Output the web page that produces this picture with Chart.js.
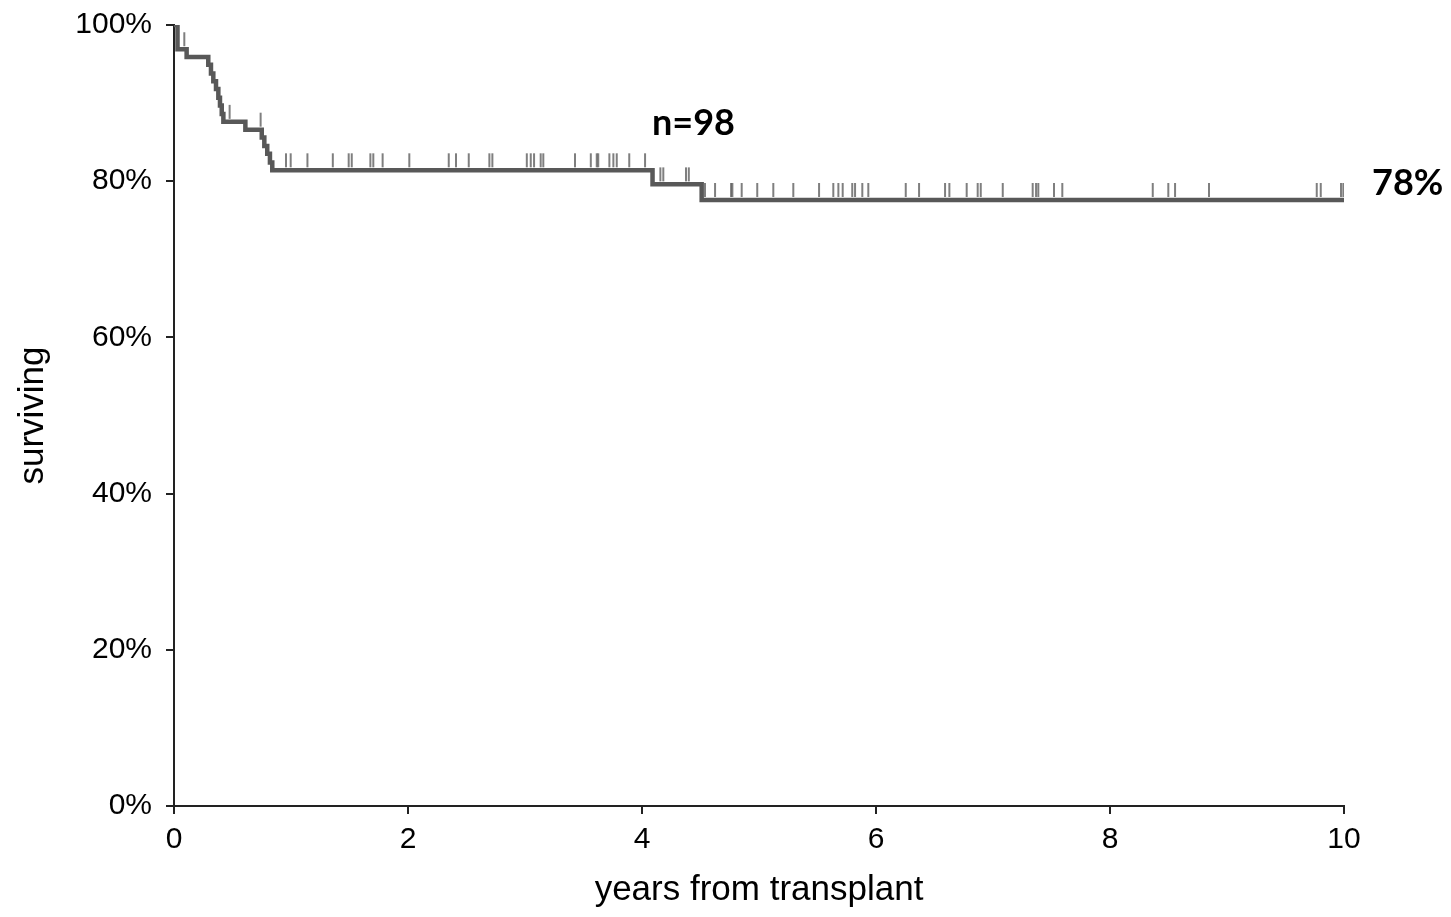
<!DOCTYPE html>
<html>
<head>
<meta charset="utf-8">
<title>Survival</title>
<script src="https://cdn.jsdelivr.net/npm/chart.js@4/dist/chart.umd.min.js"></script>
<style>
  html, body { margin: 0; padding: 0; background: #fff; }
  #wrap { width: 1451px; height: 917px; }
</style>
</head>
<body>
<div id="wrap"><canvas id="km" width="1451" height="917"></canvas></div>
<script>
// step points of the curve (years, % surviving)
const eventYears = [0, 0.03, 0.108, 0.293, 0.316, 0.336, 0.359, 0.379, 0.393, 0.408, 0.422, 0.61, 0.75, 0.772, 0.797, 0.82, 0.84, 4.09, 4.51, 10];
const survival = [100, 96.9, 95.9, 94.9, 93.8, 92.8, 91.8, 90.7, 89.7, 88.6, 87.6, 86.6, 85.6, 84.5, 83.5, 82.4, 81.4, 79.6, 77.6, 77.6];

// censored patients (years)
const censorYears = [
  0.088, 0.475, 0.74,
  0.957, 0.997, 1.14, 1.357, 1.493, 1.519, 1.678, 1.703, 1.783, 2.011, 2.348, 2.41,
  2.519, 2.695, 2.721, 3.015, 3.049, 3.077, 3.134, 3.156, 3.427, 3.562, 3.613, 3.626,
  3.721, 3.755, 3.784, 3.891, 4.026,
  4.157, 4.182, 4.376, 4.40,
  4.538, 4.624, 4.761, 4.772, 4.852, 4.985, 5.122, 5.293, 5.513, 5.635, 5.678, 5.715,
  5.797, 5.821, 5.883, 5.934, 6.254, 6.368, 6.59, 6.627, 6.775, 6.869, 6.895, 7.083,
  7.339, 7.368, 7.387, 7.521, 7.592, 8.365, 8.498, 8.556, 8.846, 9.767, 9.801, 9.974, 9.994
];

const xTicks = [0, 2, 4, 6, 8, 10];
const yTicks = [0, 20, 40, 60, 80, 100];

const nLabel = "n=98";
const finalLabel = "78%";

// level of curve at time t
const levelAt = (t) => {
  let s = survival[0];
  for (let i = 0; i < eventYears.length; i++) {
    if (eventYears[i] <= t) s = survival[i];
  }
  return s;
};

// small vertical tick above the curve for censor marks
const censorMark = () => {
  const c = document.createElement("canvas");
  c.width = 4;
  c.height = 40;
  const g = c.getContext("2d");
  g.strokeStyle = "#555";
  g.lineWidth = 1.5;
  g.beginPath();
  g.moveTo(2, 3);
  g.lineTo(2, 17);
  g.stroke();
  return c;
};

const labelsPlugin = {
  id: "kmLabels",
  afterDatasetsDraw(chart) {
    const { ctx, scales } = chart;
    ctx.save();
    ctx.fillStyle = "#000";
    ctx.font = "bold 36px Lato, 'Open Sans', sans-serif";
    ctx.textBaseline = "alphabetic";
    ctx.textAlign = "center";
    ctx.fillText(nLabel, scales.x.getPixelForValue(4.44), scales.y.getPixelForValue(85.9));
    ctx.textAlign = "left";
    ctx.fillText(finalLabel, scales.x.getPixelForValue(10.24), scales.y.getPixelForValue(78.2));
    ctx.restore();
  },
};

const axisColor = "#222";
const tickFont = { family: "'Liberation Sans', Arial, sans-serif", size: 30 };
const titleFont = { family: "'Liberation Sans', Arial, sans-serif", size: 35 };

new Chart(document.getElementById("km"), {
  type: "scatter",
  data: {
    datasets: [
      {
        type: "line",
        data: eventYears.map((t, i) => ({ x: t, y: survival[i] })),
        stepped: "before",
        borderColor: "#585858",
        borderWidth: 4.5,
        pointRadius: 0,
        fill: false,
      },
      {
        data: censorYears.map((t) => ({ x: t, y: levelAt(t) })),
        pointStyle: censorMark(),
        showLine: false,
      },
    ],
  },
  options: {
    responsive: false,
    animation: false,
    events: [],
    layout: { padding: { left: 0, top: 25, right: 107, bottom: 0 } },
    plugins: { legend: { display: false }, tooltip: { enabled: false } },
    scales: {
      x: {
        type: "linear",
        min: 0,
        max: 10,
        afterBuildTicks: (s) => { s.ticks = xTicks.map((v) => ({ value: v })); },
        afterFit: (s) => { s.height = 111; s.paddingLeft = 0; s.paddingRight = 0; },
        ticks: { color: "#000", font: tickFont, padding: 8, maxRotation: 0 },
        grid: { drawOnChartArea: false, drawTicks: true, tickLength: 8, color: axisColor, lineWidth: 2 },
        border: { display: true, color: axisColor, width: 2 },
        title: { display: true, text: "years from transplant", color: "#000", font: titleFont, padding: { top: 0, bottom: 6 } },
      },
      y: {
        type: "linear",
        min: 0,
        max: 100,
        afterBuildTicks: (s) => { s.ticks = yTicks.map((v) => ({ value: v })); },
        afterFit: (s) => { s.width = 174; s.paddingTop = 0; s.paddingBottom = 0; },
        ticks: { color: "#000", font: tickFont, padding: 14, callback: (v) => v + "%" },
        grid: { drawOnChartArea: false, drawTicks: true, tickLength: 8, color: axisColor, lineWidth: 2 },
        border: { display: true, color: axisColor, width: 2 },
        title: { display: true, text: "surviving", color: "#000", font: titleFont, padding: { top: 12, bottom: 0 } },
      },
    },
  },
  plugins: [labelsPlugin],
});
</script>
</body>
</html>
